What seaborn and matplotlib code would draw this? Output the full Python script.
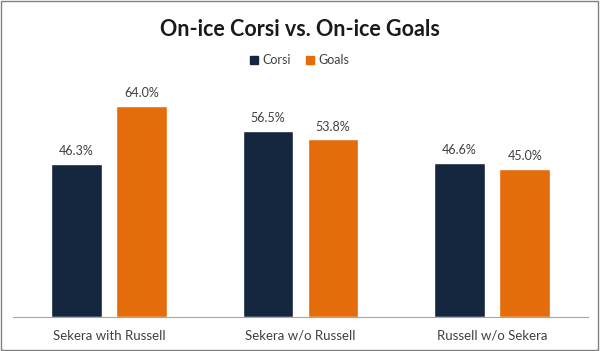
import matplotlib
matplotlib.use("Agg")
import matplotlib.pyplot as plt
import seaborn as sns
import pandas as pd

categories = ["Sekera with Russell", "Sekera w/o Russell", "Russell w/o Sekera"]
corsi = [46.3, 56.5, 46.6]
goals = [64.0, 53.8, 45.0]
series = ["Corsi", "Goals"]
colors = ["#15263F", "#E46C0A"]

df = pd.DataFrame({
    "group": categories * 2,
    "series": ["Corsi"] * 3 + ["Goals"] * 3,
    "value": corsi + goals,
})

sns.set_style("white")
plt.rcParams["font.family"] = ["Lato", "DejaVu Sans"]

fig = plt.figure(figsize=(6, 3.51), dpi=100)
ax = fig.add_axes([13 / 600, 34 / 351, 575 / 600, 240 / 351])

sns.barplot(data=df, x="group", y="value", hue="series", hue_order=series,
            palette=colors, saturation=1, width=0.68, gap=0.22, ax=ax, legend=False)

for cont in ax.containers:
    ax.bar_label(cont, fmt="%.1f%%", padding=5, fontsize=9, color="#404040")

ax.set_xlim(-0.5, 2.5)
ax.set_ylim(0, 240 / 3.3)
ax.set_xlabel("")
ax.set_ylabel("")
ax.set_yticks([])
ax.tick_params(axis="x", length=0, pad=9, labelsize=9.5, labelcolor="#404040")
for s in ["top", "left", "right"]:
    ax.spines[s].set_visible(False)
ax.spines["bottom"].set_color("#A6A6A6")

handles = [plt.Rectangle((0, 0), 1, 1, color=c) for c in colors]
fig.legend(handles, series, loc="center", bbox_to_anchor=(0.5, 1 - 60 / 351),
           ncol=2, frameon=False, fontsize=9, handlelength=0.6, handleheight=0.6,
           handletextpad=0.4, columnspacing=1.2, labelcolor="#404040")

fig.text(0.5, 1 - 30 / 351, "On-ice Corsi vs. On-ice Goals", ha="center", va="center",
         fontsize=15.5, fontweight="bold", color="#1A1A1A")

fig.patches.append(plt.Rectangle((0.002, 0.003), 0.995, 0.993, transform=fig.transFigure,
                                 fill=False, edgecolor="#808080", linewidth=1))

fig.savefig("out.png", dpi=100)
